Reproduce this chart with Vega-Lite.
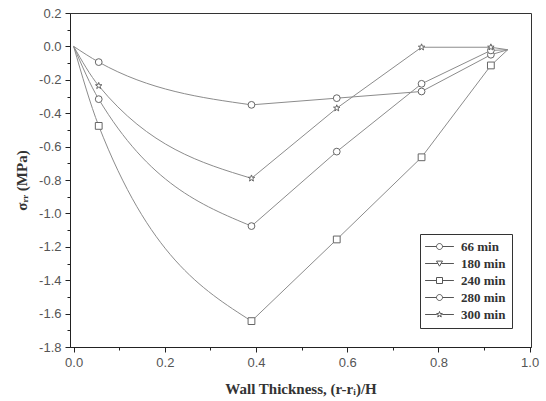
{
  "$schema": "https://vega.github.io/schema/vega-lite/v6.json",
  "autosize": {"type": "none"},
  "width": 461,
  "height": 334,
  "padding": {"left": 70, "top": 13, "right": 15, "bottom": 54},
  "background": "white",
  "config": {
    "view": {"stroke": "#333", "strokeWidth": 1},
    "axis": {
      "grid": false,
      "domainColor": "#222",
      "tickColor": "#222",
      "labelColor": "#555",
      "labelFont": "Liberation Sans",
      "labelFontSize": 13,
      "titleFont": "Liberation Serif",
      "titleFontWeight": "bold",
      "titleFontSize": 15,
      "titleColor": "#333"
    }
  },
  "data": {
    "values": [
      {"series": "66 min", "x": 0, "y": 0},
      {"series": "66 min", "x": 0.055, "y": -0.094},
      {"series": "66 min", "x": 0.39, "y": -0.35},
      {"series": "66 min", "x": 0.577, "y": -0.31},
      {"series": "66 min", "x": 0.763, "y": -0.27},
      {"series": "66 min", "x": 0.915, "y": -0.05},
      {"series": "66 min", "x": 0.952, "y": -0.02},
      {"series": "240 min", "x": 0, "y": 0},
      {"series": "240 min", "x": 0.055, "y": -0.476},
      {"series": "240 min", "x": 0.39, "y": -1.645},
      {"series": "240 min", "x": 0.577, "y": -1.156},
      {"series": "240 min", "x": 0.763, "y": -0.664},
      {"series": "240 min", "x": 0.915, "y": -0.114},
      {"series": "240 min", "x": 0.952, "y": -0.02},
      {"series": "280 min", "x": 0, "y": 0},
      {"series": "280 min", "x": 0.055, "y": -0.316},
      {"series": "280 min", "x": 0.39, "y": -1.076},
      {"series": "280 min", "x": 0.577, "y": -0.63},
      {"series": "280 min", "x": 0.763, "y": -0.224},
      {"series": "280 min", "x": 0.915, "y": -0.024},
      {"series": "280 min", "x": 0.952, "y": -0.02},
      {"series": "300 min", "x": 0, "y": 0},
      {"series": "300 min", "x": 0.055, "y": -0.236},
      {"series": "300 min", "x": 0.39, "y": -0.79},
      {"series": "300 min", "x": 0.577, "y": -0.37},
      {"series": "300 min", "x": 0.763, "y": -0.005},
      {"series": "300 min", "x": 0.915, "y": -0.005},
      {"series": "300 min", "x": 0.952, "y": -0.02}
    ]
  },
  "encoding": {
    "x": {
      "field": "x", "type": "quantitative",
      "scale": {"domain": [-0.008, 1.003], "nice": false, "zero": false},
      "axis": {
        "title": "Wall Thickness, (r-rᵢ)/H",
        "values": [0, 0.1, 0.2, 0.3, 0.4, 0.5, 0.6, 0.7, 0.8, 0.9, 1.0],
        "labelExpr": "abs(round(datum.value*10)) % 2 == 0 ? replace(format(datum.value, '.1f'), '−', '-') : ''",
        "tickSize": {"condition": {"test": "abs(round(datum.value*10)) % 2 == 0", "value": 5}, "value": 3},
        "labelPadding": 4,
        "titlePadding": 12
      }
    },
    "y": {
      "field": "y", "type": "quantitative",
      "scale": {"domain": [-1.8, 0.2], "nice": false, "zero": false},
      "axis": {
        "title": "σᵣᵣ (MPa)",
        "values": [-1.8, -1.7, -1.6, -1.5, -1.4, -1.3, -1.2, -1.1, -1.0, -0.9, -0.8, -0.7, -0.6, -0.5, -0.4, -0.3, -0.2, -0.1, 0, 0.1, 0.2],
        "labelExpr": "abs(round(datum.value*10)) % 2 == 0 ? replace(format(datum.value, '.1f'), '−', '-') : ''",
        "tickSize": {"condition": {"test": "abs(round(datum.value*10)) % 2 == 0", "value": 5}, "value": 3},
        "labelPadding": 4,
        "titlePadding": 9
      }
    }
  },
  "layer": [
    {
      "transform": [{"filter": "datum.x <= 0.4"}],
      "mark": {"type": "line", "interpolate": "monotone", "color": "#8c8c8c", "strokeWidth": 1},
      "encoding": {"detail": {"field": "series"}, "order": {"field": "x"}}
    },
    {
      "transform": [{"filter": "datum.x >= 0.39"}],
      "mark": {"type": "line", "interpolate": "linear", "color": "#8c8c8c", "strokeWidth": 1},
      "encoding": {"detail": {"field": "series"}, "order": {"field": "x"}}
    },
    {
      "transform": [{"filter": "datum.x > 0.01 && datum.x < 0.94"}],
      "mark": {"type": "point", "filled": true, "fill": "white", "stroke": "#666", "strokeWidth": 1, "size": 46, "opacity": 1},
      "encoding": {
        "shape": {
          "field": "series", "type": "nominal",
          "scale": {
            "domain": ["66 min", "180 min", "240 min", "280 min", "300 min"],
            "range": ["circle", "triangle-down", "square", "circle", "M0,-1L0.235,-0.324L0.951,-0.309L0.38,0.124L0.588,0.809L0,0.4L-0.588,0.809L-0.38,0.124L-0.951,-0.309L-0.235,-0.324Z"]
          },
          "legend": null
        }
      }
    },
    {
      "transform": [{"filter": "datum.x < -5"}],
      "mark": {"type": "point", "filled": false, "stroke": "#555", "strokeWidth": 1, "size": 36},
      "encoding": {
        "shape": {
          "field": "series", "type": "nominal",
          "scale": {
            "domain": ["66 min", "180 min", "240 min", "280 min", "300 min"],
            "range": [
              "M-4.8,0H-1M1,0H4.8M1,0A1,1,0,1,1,-1,0A1,1,0,1,1,1,0",
              "M-4.8,0H-0.55M0.55,0H4.8M-1,-0.8L1,-0.8L0,0.9Z",
              "M-4.8,0H-1M1,0H4.8M-1,-1H1V1H-1Z",
              "M-4.8,0H-1M1,0H4.8M1,0A1,1,0,1,1,-1,0A1,1,0,1,1,1,0",
              "M-4.8,0H-0.9M0.9,0H4.8M0,-1L0.235,-0.324L0.951,-0.309L0.38,0.124L0.588,0.809L0,0.4L-0.588,0.809L-0.38,0.124L-0.951,-0.309L-0.235,-0.324Z"
            ]
          },
          "legend": {
            "title": null,
            "orient": "bottom-right",
            "offset": 19,
            "strokeColor": "#333",
            "fillColor": "white",
            "padding": 6,
            "symbolOffset": 7,
            "symbolSize": 36,
            "symbolOpacity": 1,
            "symbolStrokeColor": "#555",
            "symbolStrokeWidth": 1,
            "labelOffset": 15,
            "labelFont": "Liberation Serif",
            "labelFontWeight": "bold",
            "labelFontSize": 13,
            "labelColor": "#333",
            "rowPadding": 3
          }
        }
      }
    }
  ],
  "resolve": {"scale": {"shape": "independent"}}
}
